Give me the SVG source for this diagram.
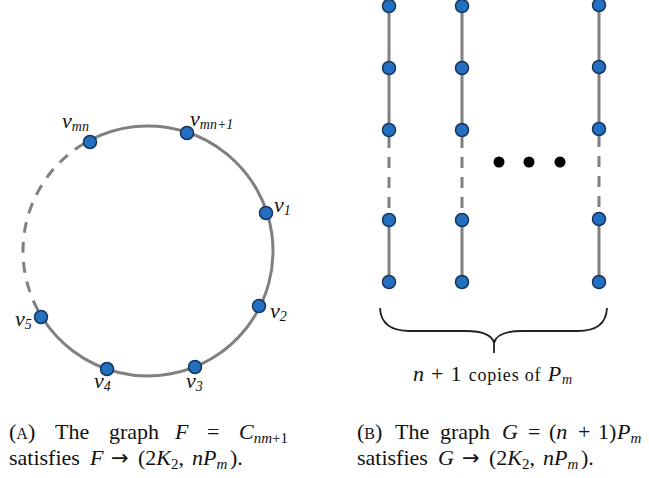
<svg xmlns="http://www.w3.org/2000/svg" width="649" height="478" viewBox="0 0 649 478">
<style>
  .edge{fill:none;stroke:#808080;stroke-width:3}
  .dash{stroke-dasharray:11 9}
  .node{fill:#2470c0;stroke:#15355c;stroke-width:1.5}
  .lbl{font-family:'Liberation Serif','DejaVu Serif','Times New Roman',serif;font-size:22px;font-style:italic;fill:#111}
  .sub{font-size:14px}
  .cap{font-family:'Liberation Serif','DejaVu Serif','Times New Roman',serif;font-size:22px;fill:#111}
  .it{font-style:italic}
  .arr{font-family:'DejaVu Sans',sans-serif;font-size:21px}
  .dot{fill:#000}
  .brace{fill:none;stroke:#222;stroke-width:1.8}
</style>
<rect width="649" height="478" fill="#fff"/>
<g id="connectors">
  <path class="edge" d="M 42 317.2 A 125 125 0 1 0 89.3 140.6"/>
  <path class="edge dash" d="M 89.3 140.6 A 125 125 0 0 0 42 317.2" stroke-dashoffset="-6"/>
  <line class="edge" x1="389" y1="6" x2="389" y2="130"/>
  <line class="edge dash" x1="389" y1="130" x2="389" y2="220" stroke-dashoffset="-7"/>
  <line class="edge" x1="389" y1="220" x2="389" y2="282"/>
  <line class="edge" x1="462" y1="6" x2="462" y2="130"/>
  <line class="edge dash" x1="462" y1="130" x2="462" y2="220" stroke-dashoffset="-7"/>
  <line class="edge" x1="462" y1="220" x2="462" y2="282"/>
  <line class="edge" x1="599" y1="5" x2="599" y2="129"/>
  <line class="edge dash" x1="599" y1="129" x2="599" y2="219" stroke-dashoffset="-7"/>
  <line class="edge" x1="599" y1="219" x2="599" y2="282"/>
</g>
<g id="node-vmn"><circle class="node" cx="90" cy="142" r="6.5"/><text class="lbl" x="62" y="128">v<tspan class="sub" dy="3">mn</tspan></text></g>
<g id="node-vmn1"><circle class="node" cx="187" cy="133" r="6.5"/><text class="lbl" x="190" y="126">v<tspan class="sub" dy="3">mn+1</tspan></text></g>
<g id="node-v1"><circle class="node" cx="266" cy="213" r="6.5"/><text class="lbl" x="274" y="212">v<tspan class="sub" dy="3">1</tspan></text></g>
<g id="node-v2"><circle class="node" cx="259" cy="306" r="6.5"/><text class="lbl" x="270" y="318">v<tspan class="sub" dy="3">2</tspan></text></g>
<g id="node-v3"><circle class="node" cx="195" cy="367" r="6.5"/><text class="lbl" x="186" y="388">v<tspan class="sub" dy="3">3</tspan></text></g>
<g id="node-v4"><circle class="node" cx="107" cy="369" r="6.5"/><text class="lbl" x="94" y="388">v<tspan class="sub" dy="3">4</tspan></text></g>
<g id="node-v5"><circle class="node" cx="41" cy="317" r="6.5"/><text class="lbl" x="15" y="326">v<tspan class="sub" dy="3">5</tspan></text></g>
<g id="path-1">
  <circle class="node" cx="389" cy="6" r="6.5"/><circle class="node" cx="389" cy="68" r="6.5"/><circle class="node" cx="389" cy="130" r="6.5"/><circle class="node" cx="389" cy="220" r="6.5"/><circle class="node" cx="389" cy="282" r="6.5"/>
</g>
<g id="path-2">
  <circle class="node" cx="462" cy="6" r="6.5"/><circle class="node" cx="462" cy="68" r="6.5"/><circle class="node" cx="462" cy="130" r="6.5"/><circle class="node" cx="462" cy="220" r="6.5"/><circle class="node" cx="462" cy="282" r="6.5"/>
</g>
<g id="path-n1">
  <circle class="node" cx="599" cy="5" r="6.5"/><circle class="node" cx="599" cy="67" r="6.5"/><circle class="node" cx="599" cy="129" r="6.5"/><circle class="node" cx="599" cy="219" r="6.5"/><circle class="node" cx="599" cy="282" r="6.5"/>
</g>
<g id="ellipsis">
  <circle class="dot" cx="499" cy="162" r="5.5"/><circle class="dot" cx="529" cy="162" r="5.5"/><circle class="dot" cx="560" cy="162" r="5.5"/>
</g>
<g id="brace">
  <path class="brace" d="M 380 308 Q 381 331 410 331 L 466 331 Q 491 331 494 343 L 494 353"/>
  <path class="brace" d="M 607 308 Q 606 331 578 331 L 522 331 Q 497 331 494 343"/>
  <text class="cap" x="413" y="381" font-size="21" textLength="159" lengthAdjust="spacing"><tspan class="it">n</tspan> + 1 <tspan font-size="18">copies of</tspan> <tspan class="it">P</tspan><tspan class="it" font-size="14" dy="3">m</tspan></text>
</g>
<g id="caption-a">
  <text class="cap" y="439"><tspan x="9">(<tspan font-size="16">A</tspan>)</tspan><tspan x="55">The</tspan><tspan x="109">graph</tspan><tspan x="175" class="it">F</tspan><tspan x="207">=</tspan><tspan x="239" class="it">C</tspan><tspan font-size="15" dy="4"><tspan class="it">nm</tspan>+1</tspan></text>
  <text class="cap" y="465"><tspan x="9">satisfies</tspan><tspan x="90" class="it">F</tspan><tspan x="111" class="arr">→</tspan><tspan x="138">(2</tspan><tspan class="it">K</tspan><tspan font-size="15" dy="4">2</tspan><tspan dy="-4">,</tspan><tspan x="192" class="it">nP</tspan><tspan class="it" font-size="15" dy="4">m</tspan><tspan x="230" dy="-4">).</tspan></text>
</g>
<g id="caption-b">
  <text class="cap" y="439"><tspan x="357">(<tspan font-size="16">B</tspan>)</tspan><tspan x="395">The</tspan><tspan x="440">graph</tspan><tspan x="502" class="it">G</tspan><tspan x="528">=</tspan><tspan x="549">(</tspan><tspan class="it">n</tspan><tspan x="578">+</tspan><tspan x="598">1)</tspan><tspan x="617" class="it">P</tspan><tspan class="it" font-size="15" dy="4">m</tspan></text>
  <text class="cap" y="465"><tspan x="357">satisfies</tspan><tspan x="438" class="it">G</tspan><tspan x="462" class="arr">→</tspan><tspan x="489">(2</tspan><tspan class="it">K</tspan><tspan font-size="15" dy="4">2</tspan><tspan dy="-4">,</tspan><tspan x="543" class="it">nP</tspan><tspan class="it" font-size="15" dy="4">m</tspan><tspan x="581" dy="-4">).</tspan></text>
</g>
</svg>
